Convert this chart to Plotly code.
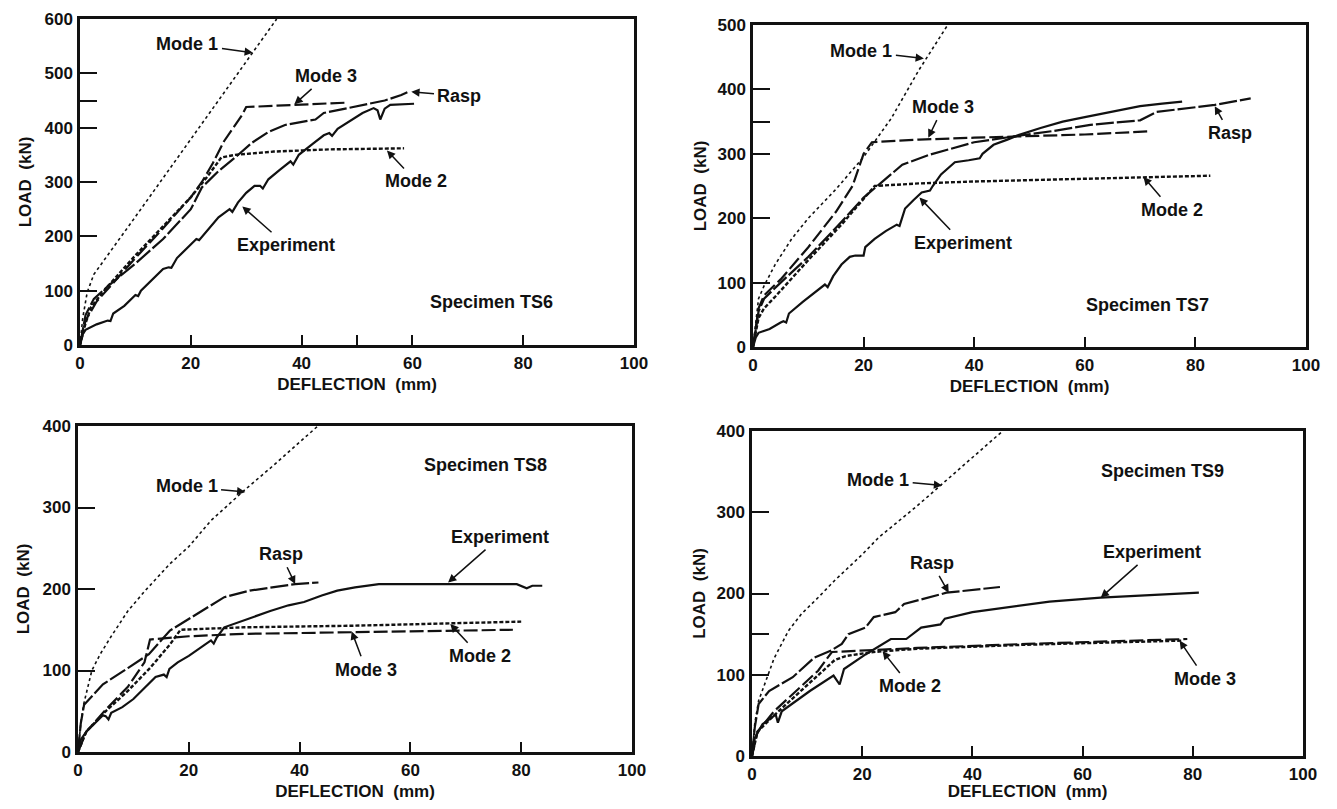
import plotly.graph_objects as go

# ---------------- DATA ----------------
# Specimen TS6
TS6_MODE1_X = [0, 0.5, 1.3, 2.5, 10, 20, 30, 35.5]
TS6_MODE1_Y = [0, 50, 97, 130, 236, 378, 520, 600]
TS6_MODE2_X = [0, 1, 2, 5, 10, 15, 20, 23, 25.5, 28, 35, 45, 58.5]
TS6_MODE2_Y = [0, 40, 70, 108, 165, 218, 272, 310, 345, 350, 356, 360, 362]
TS6_MODE3_X = [0, 1, 3, 10, 15, 20, 22, 24, 26, 28, 29.3, 30, 40, 48]
TS6_MODE3_Y = [0, 45, 80, 160, 215, 272, 300, 335, 375, 405, 424, 438, 442, 446]
TS6_RASP_X = [0, 1, 2.5, 5, 10, 15, 20, 22, 25, 28, 31, 34, 37, 40, 42.5, 44, 50, 55, 58, 59.5]
TS6_RASP_Y = [0, 55, 85, 108, 150, 195, 250, 290, 320, 345, 372, 392, 405, 410, 415, 427, 440, 450, 460, 467]
TS6_EXP_X = [0, 0.5, 1, 3, 5, 5.5, 6, 8, 10, 10.5, 11, 13, 15, 16, 16.5, 17.5, 20, 21, 21.5, 22.5,
             25, 27, 27.5, 28.5, 30, 31.5, 32.5, 33, 34, 36, 38, 38.5, 39.5, 42, 44, 45, 45.5, 46.5,
             49, 51, 53, 53.7, 54.2, 55, 56, 60.3]
TS6_EXP_Y = [0, 20, 28, 38, 45, 44, 58, 72, 92, 90, 100, 120, 140, 143, 142, 160, 185, 195, 193, 205,
             235, 250, 245, 262, 280, 293, 293, 288, 305, 322, 338, 332, 350, 370, 386, 390, 385, 398,
             415, 427, 436, 432, 415, 435, 442, 444]

# Specimen TS7
TS7_MODE1_X = [0, 0.5, 1, 2, 4, 7, 10, 15, 20, 25, 30, 35.2]
TS7_MODE1_Y = [0, 40, 75, 95, 128, 168, 200, 245, 295, 355, 430, 500]
TS7_MODE2_X = [0, 1, 2, 4, 10, 16, 22, 30, 40, 60, 82.7]
TS7_MODE2_Y = [0, 45, 60, 78, 135, 190, 250, 254, 257, 261, 266]
TS7_MODE3_X = [0, 1, 2, 5, 10, 15, 18, 19.5, 20, 21.5, 30, 40, 50, 60, 72]
TS7_MODE3_Y = [0, 60, 80, 105, 155, 210, 250, 285, 300, 318, 322, 325, 328, 330, 335]
TS7_RASP_X = [0, 1, 2, 5, 10, 15, 20, 22.4, 27, 31.7, 36, 40, 48, 54, 61, 70, 73, 80, 83.5, 90]
TS7_RASP_Y = [0, 55, 75, 100, 140, 185, 232, 250, 283, 298, 308, 318, 328, 335, 345, 352, 365, 372, 376, 386]
TS7_EXP_X = [0, 0.5, 1, 2, 3, 5, 5.5, 6, 6.5, 9, 12, 13, 13.5, 14.5, 16, 17.5, 18.5, 20, 20.3, 22,
             24, 26, 26.5, 27.5, 29, 30.5, 32, 32.5, 34, 36.5, 39, 41, 41.5, 43.5, 46, 48, 52, 56,
             60, 65, 70, 74, 77.6]
TS7_EXP_Y = [0, 15, 22, 25, 28, 38, 40, 38, 52, 70, 90, 97, 93, 110, 128, 140, 142, 142, 155, 168,
             180, 190, 188, 215, 228, 240, 243, 250, 268, 287, 290, 293, 300, 314, 322, 329, 340, 350,
             357, 366, 374, 378, 381]

# Specimen TS8
TS8_MODE1_X = [0, 0.5, 1, 2.5, 4, 6, 9, 12, 16.6, 20, 24, 30, 35, 43.3]
TS8_MODE1_Y = [0, 35, 58, 100, 120, 142, 173, 197, 231, 252, 284, 321, 350, 400]
TS8_MODE2_X = [0, 1.5, 5, 9, 13, 16.6, 18.5, 30, 50, 80]
TS8_MODE2_Y = [0, 25, 50, 75, 103, 132, 150, 153, 155, 160]
TS8_MODE3_X = [0, 1.5, 5, 9, 12, 13, 20, 30, 50, 78.5]
TS8_MODE3_Y = [0, 25, 52, 80, 110, 138, 142, 145, 147, 150]
TS8_RASP_X = [0, 0.5, 1.1, 4.5, 9, 12.8, 16.6, 20.4, 26.4, 31, 39.2, 43.4]
TS8_RASP_Y = [0, 35, 58, 83, 103, 120, 149, 165, 190, 198, 206, 208]
TS8_EXP_X = [0, 0.5, 1.5, 3, 4.5, 5, 5.5, 6, 8, 10, 12, 14, 15.5, 16, 16.5, 18, 20, 22, 24, 24.5,
             25, 26.4, 30, 34.7, 38, 40.8, 44, 46.8, 50, 54.3, 62, 70, 79.2, 81, 82, 83.8]
TS8_EXP_Y = [0, 15, 25, 35, 45, 44, 40, 48, 55, 65, 78, 92, 95, 92, 102, 110, 118, 127, 137, 133,
             140, 153, 162, 173, 180, 184, 192, 198, 202, 206, 206, 206, 206, 201, 204, 204]

# Specimen TS9
TS9_MODE1_X = [0, 0.5, 1.2, 2.7, 4, 6.6, 9, 12, 15, 20, 23, 30, 35, 40, 45.5]
TS9_MODE1_Y = [0, 40, 68, 97, 120, 154, 175, 195, 216, 248, 269, 308, 338, 368, 400]
TS9_MODE2_X = [0, 1, 4, 8, 12, 15, 17, 22, 30, 50, 78]
TS9_MODE2_Y = [0, 30, 50, 75, 100, 118, 123, 128, 132, 137, 142]
TS9_MODE3_X = [0, 1, 4, 8, 12, 14.5, 20, 30, 50, 79]
TS9_MODE3_Y = [0, 30, 55, 80, 105, 128, 130, 133, 138, 144]
TS9_RASP_X = [0, 0.5, 1.2, 3.1, 7.4, 11.3, 14.4, 16.3, 17.5, 20.6, 22.1, 26, 27.6, 30.7, 35.3, 45]
TS9_RASP_Y = [0, 35, 64, 80, 97, 121, 130, 138, 150, 158, 171, 177, 187, 193, 201, 208]
TS9_EXP_X = [0, 0.5, 1.9, 4.3, 4.7, 5.4, 10.5, 14.8, 15.9, 16.7, 20.6, 25.2, 28, 30.7, 34.2, 35,
             40, 46.2, 54, 63.3, 72, 81.1]
TS9_EXP_Y = [0, 22, 39, 51, 41, 55, 80, 99, 88, 107, 125, 144, 144, 158, 162, 169,
             177, 183, 190, 195, 198, 201]

SPECIMENS = ["Specimen TS6", "Specimen TS7", "Specimen TS8", "Specimen TS9"]
Y_MAX = [600, 500, 400, 400]

# ---------------- FIGURE ----------------
PAGE_W, PAGE_H = 1337, 809
OFF = 8                      # default page margin around the plot div
W, H = PAGE_W - 2 * OFF, PAGE_H - 2 * OFF
FONT = "Arial"
BLACK = "#111111"

# plot frames in page pixels (left, right, top, bottom)
frames = [(80, 634, 19, 345), (753, 1306, 25, 347), (78, 632, 426, 752), (752, 1303, 431, 756)]
ytitle_standoff = [9, 7, 9, 7]

styles = {
    "Mode 1": dict(dash="dot", width=1.6),
    "Mode 2": dict(dash="4px,2px", width=2.4),
    "Mode 3": dict(dash="14px,4px", width=2.2),
    "Rasp": dict(dash="18px,3px", width=2.2),
    "Experiment": dict(dash="solid", width=2.2),
}

series = [
    [("Mode 1", TS6_MODE1_X, TS6_MODE1_Y), ("Mode 2", TS6_MODE2_X, TS6_MODE2_Y),
     ("Mode 3", TS6_MODE3_X, TS6_MODE3_Y), ("Rasp", TS6_RASP_X, TS6_RASP_Y),
     ("Experiment", TS6_EXP_X, TS6_EXP_Y)],
    [("Mode 1", TS7_MODE1_X, TS7_MODE1_Y), ("Mode 2", TS7_MODE2_X, TS7_MODE2_Y),
     ("Mode 3", TS7_MODE3_X, TS7_MODE3_Y), ("Rasp", TS7_RASP_X, TS7_RASP_Y),
     ("Experiment", TS7_EXP_X, TS7_EXP_Y)],
    [("Mode 1", TS8_MODE1_X, TS8_MODE1_Y), ("Mode 2", TS8_MODE2_X, TS8_MODE2_Y),
     ("Mode 3", TS8_MODE3_X, TS8_MODE3_Y), ("Rasp", TS8_RASP_X, TS8_RASP_Y),
     ("Experiment", TS8_EXP_X, TS8_EXP_Y)],
    [("Mode 1", TS9_MODE1_X, TS9_MODE1_Y), ("Mode 2", TS9_MODE2_X, TS9_MODE2_Y),
     ("Mode 3", TS9_MODE3_X, TS9_MODE3_Y), ("Rasp", TS9_RASP_X, TS9_RASP_Y),
     ("Experiment", TS9_EXP_X, TS9_EXP_Y)],
]

# tick positions (some unlabeled ticks as in the scanned original)
xticks = [[0, 20, 40, 50, 60, 80, 100], [0, 20, 40, 60, 80, 100], [0, 20, 40, 60, 80, 100], [0, 20, 40, 60, 80, 100]]
yticks = [[0, 100, 200, 300, 400, 450, 500, 600], [0, 100, 200, 300, 350, 400, 500],
          [0, 100, 200, 300, 400], [0, 100, 150, 200, 300, 400]]
labeled_x = [0, 20, 40, 60, 80, 100]

# annotations: (text, text_x, text_y, tip_x, tip_y) in data units
labels = [
    [("Mode 1", 19.4, 554, 31.2, 538), ("Mode 3", 44.4, 495, 38.7, 443), ("Rasp", 68.5, 458, 59.8, 466),
     ("Mode 2", 60.7, 301, 55.4, 358), ("Experiment", 37.2, 184, 29.3, 255)],
    [("Mode 1", 19.6, 459, 30.9, 448), ("Mode 3", 34.4, 373, 31.7, 325), ("Rasp", 86.2, 332, 83.5, 374),
     ("Mode 2", 75.7, 213, 70.6, 264), ("Experiment", 37.9, 162, 30.1, 232)],
    [("Mode 1", 19.6, 326, 30.2, 319), ("Rasp", 36.6, 243, 39.2, 206), ("Experiment", 76.2, 264, 66.8, 208),
     ("Mode 2", 72.5, 118, 67.2, 157), ("Mode 3", 52.0, 101, 49.4, 148)],
    [("Mode 1", 22.9, 340, 34.5, 333), ("Rasp", 32.6, 238, 35.7, 201), ("Experiment", 72.6, 251, 63.3, 195),
     ("Mode 2", 28.7, 86, 23.7, 129), ("Mode 3", 82.3, 95, 77.6, 142)],
]
spec_pos = [(74.3, 79), (71.4, 66), (73.6, 352), (74.5, 351)]

fig = go.Figure()
layout = dict(
    width=W, height=H, margin=dict(l=0, r=0, t=0, b=0, autoexpand=False),
    paper_bgcolor="white", plot_bgcolor="white", showlegend=False,
    font=dict(family=FONT, color=BLACK, size=17, weight="bold"),
)
annotations = []

for i in range(4):
    n = "" if i == 0 else str(i + 1)
    xa, ya = "x" + n, "y" + n
    l, r, t, b = [v - OFF for v in frames[i]]
    for name, xs, ys in series[i]:
        st = styles[name]
        fig.add_trace(go.Scatter(x=xs, y=ys, mode="lines", name=name, xaxis=xa, yaxis=ya,
                                 line=dict(color=BLACK, width=st["width"], dash=st["dash"]),
                                 showlegend=False))
    layout["xaxis" + n] = dict(
        domain=[l / W, r / W], anchor=ya, range=[0, 100], showgrid=False, zeroline=False,
        showline=True, linecolor=BLACK, linewidth=2.5, mirror=True, automargin=False,
        ticks="inside", ticklen=10, tickwidth=2, tickcolor=BLACK,
        tickvals=xticks[i], ticktext=[str(v) if v in labeled_x else "" for v in xticks[i]],
        tickfont=dict(size=17, family=FONT, weight="bold"), ticklabelstandoff=1,
        title=dict(text="DEFLECTION\u00a0\u00a0(mm)", font=dict(size=17, family=FONT, weight="bold"), standoff=6),
    )
    ymax = Y_MAX[i]
    layout["yaxis" + n] = dict(
        domain=[1 - b / H, 1 - t / H], anchor=xa, range=[0, ymax], showgrid=False, zeroline=False,
        showline=True, linecolor=BLACK, linewidth=2.5, mirror=True, automargin=False,
        ticks="inside", ticklen=17, tickwidth=2, tickcolor=BLACK,
        tickvals=yticks[i], ticktext=[str(v) if v % 100 == 0 else "" for v in yticks[i]],
        tickfont=dict(size=17, family=FONT, weight="bold"), ticklabelstandoff=1,
        title=dict(text="LOAD\u00a0\u00a0(kN)", font=dict(size=17, family=FONT, weight="bold"),
                   standoff=ytitle_standoff[i]),
    )
    for text, tx, ty, px, py in labels[i]:
        annotations.append(dict(
            xref=xa, yref=ya, x=px, y=py, axref=xa, ayref=ya, ax=tx, ay=ty,
            text=text, showarrow=True, arrowhead=2, arrowsize=1.1, arrowwidth=1.5,
            arrowcolor=BLACK, standoff=0, startstandoff=2,
            font=dict(size=18, family=FONT, color=BLACK, weight="bold"),
        ))
    sx, sy = spec_pos[i]
    annotations.append(dict(xref=xa, yref=ya, x=sx, y=sy, text=SPECIMENS[i], showarrow=False,
                            font=dict(size=18, family=FONT, color=BLACK, weight="bold")))

layout["annotations"] = annotations
fig.update_layout(**layout)
fig.write_html("out.html")
